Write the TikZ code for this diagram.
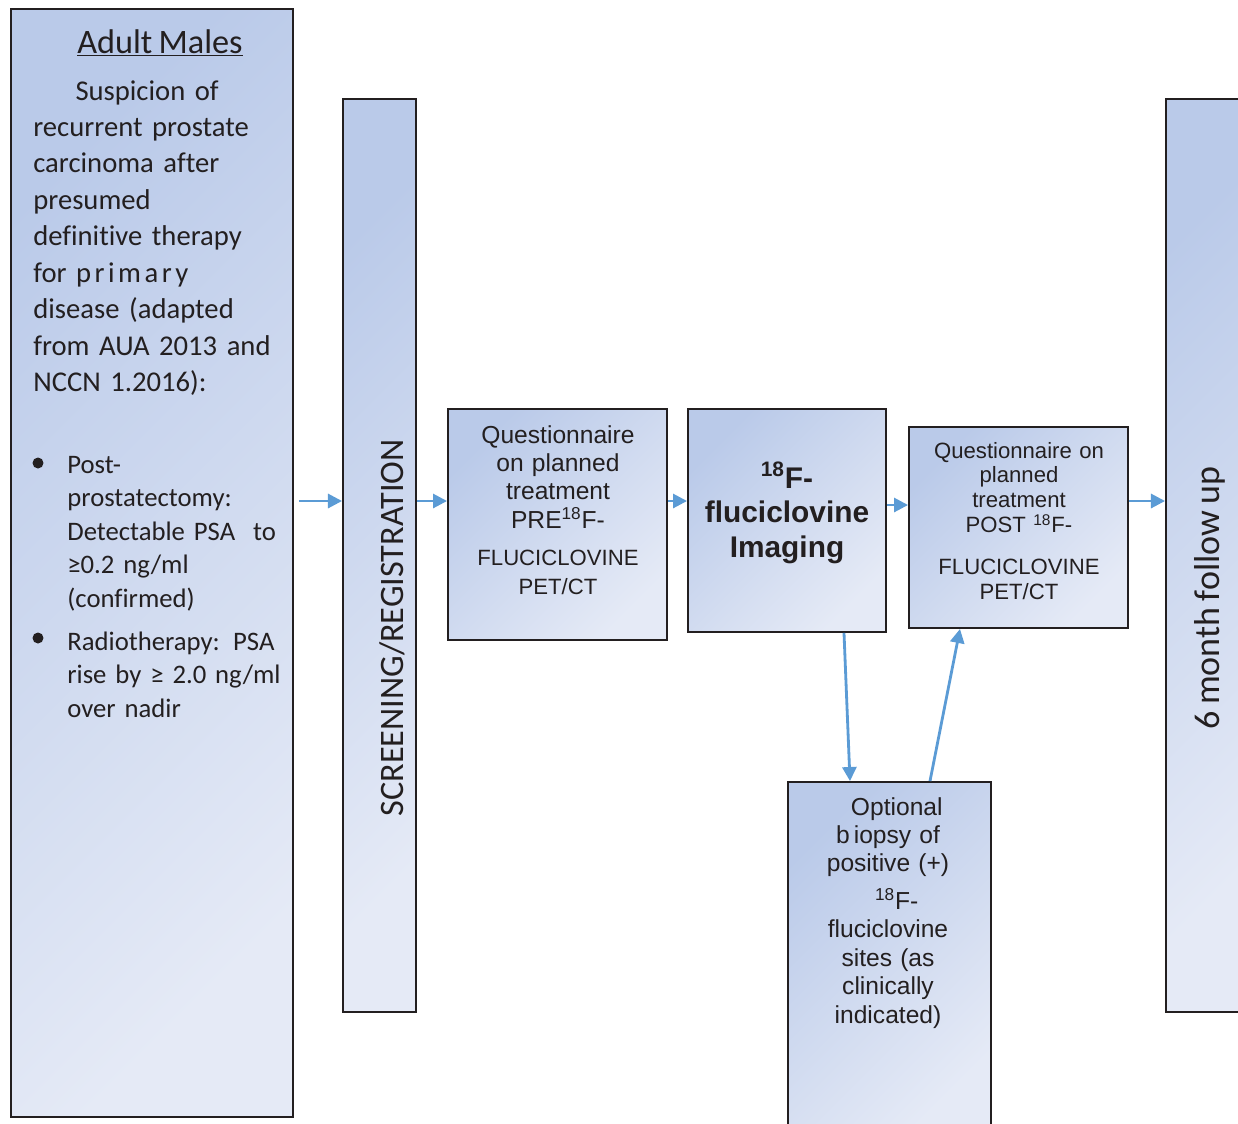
\documentclass[tikz,border=0pt]{standalone}
\usepackage{fontspec}
\setmainfont{Liberation Sans}
\newfontfamily\calibri[Ligatures=NoCommon,WordSpace=0.8]{Carlito}
\usepackage{tikz}
\usetikzlibrary{arrows.meta,calc}
\definecolor{boxdark}{RGB}{186,202,233}
\definecolor{boxlight}{RGB}{229,234,246}
\definecolor{flowblue}{RGB}{91,155,213}
\definecolor{edge}{RGB}{35,31,32}
\newcommand{\gap}{\hspace{2pt}}

\begin{document}
\begin{tikzpicture}[x=0.02cm,y=-0.02cm,
    box/.style={draw=edge,line width=1.1pt,top color=boxdark,bottom color=boxlight,shading angle=45,inner sep=0pt},
    flow/.style={draw=flowblue,line width=1.6pt,-{Triangle[length=8pt,width=8pt]}},
    label/.style={inner sep=0pt,text=edge},
    dot/.style={circle,fill=edge,inner sep=0pt,minimum size=0.22cm}]
 %the study flow
    \useasboundingbox (0,0) rectangle (1238,1123);
  %draw boxes
    \node[box,minimum width=5.64cm,minimum height=22.16cm] (adult) at (152,563) {};
    \node[box,minimum width=1.46cm,minimum height=18.26cm] (screen) at (379.5,555.5) {};
    \node[box,minimum width=4.38cm,minimum height=4.62cm] (preq) at (557.5,524.5) {};
    \node[box,minimum width=3.96cm,minimum height=4.46cm] (imaging) at (787,520.5) {};
    \node[box,minimum width=4.38cm,minimum height=4.02cm] (postq) at (1018.5,527.5) {};
    \node[box,minimum width=4.06cm,minimum height=7.06cm] (biopsy) at (889.5,958.5) {};
    \node[box,minimum width=1.68cm,minimum height=18.26cm] (followup) at (1208,555.5) {};
  %draw arrows
    \draw[flow] ($(adult.east |- 0,501)+(5,0)$) -- (screen.west |- 0,501);
    \draw[flow] (screen.east |- 0,501) -- (preq.west |- 0,501);
    \draw[flow] (preq.east |- 0,501) -- (imaging.west |- 0,501);
    \draw[flow] (imaging.east |- 0,505) -- (postq.west |- 0,505);
    \draw[flow] (postq.east |- 0,501) -- (followup.west |- 0,501);
    \draw[flow] (imaging.south -| 844,0) -- (biopsy.north -| 850,0);
    \draw[flow] (biopsy.north -| 930,0) -- (postq.south -| 960,0);
  %left column
    \node[label,anchor=base,font=\calibri\fontsize{19.5}{23}\selectfont] (title) at (160,53) {\underline{Adult Males}};
    \node[label,anchor=base west,text width=5.2cm,align=left,font=\calibri\fontsize{16.3}{20.75}\selectfont] (intro) at (33,100)
      {\hspace*{24pt}Suspicion of\\ recurrent prostate\\ carcinoma after\\ presumed\\ definitive therapy\\ for p\gap r\gap i\gap m\gap a\gap r\gap y\\ disease (adapted\\ from AUA 2013 and\\ NCCN 1.2016):};
    \node[dot] (dot1) at (38,463) {};
    \node[dot] (dot2) at (38,638) {};
    \node[label,anchor=base west,text width=4.8cm,align=left,font=\calibri\fontsize{15.2}{19.1}\selectfont] (postitem) at (67,473)
      {Post-\\ prostatectomy:\\ Detectable PSA\,\, to\\ ≥0.2 ng/ml\\ (confirmed)};
    \node[label,anchor=base west,text width=4.8cm,align=left,font=\calibri\fontsize{15.2}{19.1}\selectfont] (radioitem) at (67,650)
      {Radiotherapy: PSA\\ rise by ≥ 2.0 ng/ml\\ over nadir};
  %upright labels
    \node[label,rotate=90,anchor=base,font=\calibri\fontsize{19.5}{23}\selectfont] (screentext) at (403,628) {SCREENING/REGISTRATION};
    \node[label,rotate=90,anchor=base,font=\calibri\fontsize{20.5}{24}\selectfont] (followtext) at (1219,598) {6 month follow up};
  %box texts
    \node[label,anchor=base,text width=4.2cm,align=center,font=\fontsize{14}{16.2}\selectfont] (pretext) at (558,443)
      {Questionnaire\\ on planned\\ treatment\\ PRE\textsuperscript{18}F-\\[6.5pt] {\fontsize{12.6}{14.8}\selectfont FLUCICLOVINE\\ PET/CT}};
    \node[label,anchor=base,text width=3.8cm,align=center,font=\bfseries\fontsize{17}{19.8}\selectfont] (imgtext) at (787,488)
      {\textsuperscript{18}F-\\ fluciclovine\\ Imaging};
    \node[label,anchor=base,text width=4.2cm,align=center,font=\fontsize{12.6}{14.2}\selectfont] (posttext) at (1019,458)
      {Questionnaire on\\ planned\\ treatment\\ POST \textsuperscript{18}F-\\[9.6pt] FLUCICLOVINE\\ PET/CT};
    \node[label,anchor=base,text width=3.8cm,align=center,font=\fontsize{14}{16.2}\selectfont] (biopsytext) at (888,815)
      {\hspace*{10pt}Optional\\ b\,iopsy of\\ positive (+)\\[5pt] \hspace*{10pt}\textsuperscript{18}F-\\ fluciclovine\\ sites (as\\ clinically\\ indicated)};
\end{tikzpicture}
\end{document}
